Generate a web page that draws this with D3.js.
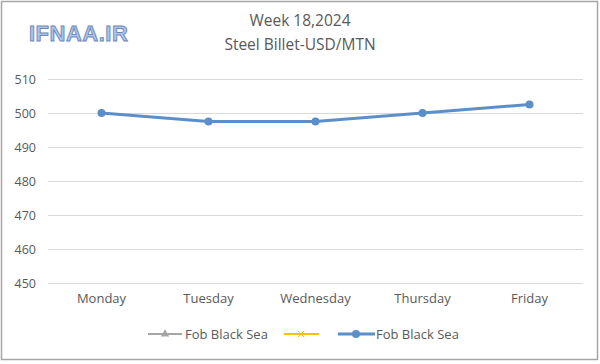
<!DOCTYPE html>
<html><head><meta charset="utf-8">
<script src="https://cdn.jsdelivr.net/npm/d3@7"></script>
<style>body{margin:0;background:#fff}svg{display:block}</style>
</head><body>
<svg id="c" width="600" height="364"></svg>
<script>
const days = ["Monday","Tuesday","Wednesday","Thursday","Friday"];
const fobValues = [500, 497.5, 497.5, 500, 502.5];
const yTicks = [450,460,470,480,490,500,510];
const titleLines = ["Week 18,2024","Steel Billet-USD/MTN"];
const legendNames = ["Fob Black Sea","","Fob Black Sea"];

const svg = d3.select("#c");
const font = "'Open Sans', 'Liberation Sans', sans-serif";
const grey = "#595959";
svg.append("rect").attr("x",1.5).attr("y",1.5).attr("width",596).attr("height",358)
  .attr("fill","#fff").attr("stroke","#a6a6a6").attr("stroke-width",1.5);

const m = {l:48, r:583, t:79, b:283};
const x = d3.scaleBand().domain(days).range([m.l,m.r]);
const y = d3.scaleLinear().domain([450,510]).range([m.b,m.t]);

// gridlines
svg.append("g").selectAll("line").data(yTicks).join("line")
  .attr("x1",m.l).attr("x2",m.r).attr("y1",d=>Math.round(y(d))+0.5).attr("y2",d=>Math.round(y(d))+0.5)
  .attr("stroke","#d9d9d9").attr("stroke-width",1);

const yAxis = svg.append("g").attr("transform",`translate(${m.l},0)`)
  .call(d3.axisLeft(y).tickValues(yTicks).tickSize(0).tickPadding(12));
yAxis.select(".domain").remove();
yAxis.selectAll("text").attr("fill",grey).style("font-family",font).style("font-size","12.5px");

const xAxis = svg.append("g").attr("transform",`translate(0,${m.b})`)
  .call(d3.axisBottom(x).tickSize(0).tickPadding(11));
xAxis.select(".domain").remove();
xAxis.selectAll("text").attr("fill",grey).style("font-family",font).style("font-size","13px");

// line
const line = d3.line().x((d,i)=>x(days[i])+x.bandwidth()/2).y(d=>y(d));
const blue = "#5b8fc9";
svg.append("path").datum(fobValues).attr("d",line).attr("fill","none")
  .attr("stroke",blue).attr("stroke-width",3).attr("stroke-linecap","round").attr("stroke-linejoin","round");
svg.append("g").selectAll("circle").data(fobValues).join("circle")
  .attr("cx",(d,i)=>x(days[i])+x.bandwidth()/2).attr("cy",d=>y(d)).attr("r",4).attr("fill",blue);

// title
svg.append("g").selectAll("text").data(titleLines).join("text")
  .attr("x",300).attr("y",(d,i)=>26+i*24).attr("text-anchor","middle")
  .attr("fill",grey).style("font-family",font).style("font-size","15.5px").text(d=>d);

// logo
svg.append("text").attr("x",29).attr("y",41).text("IFNAA.IR")
  .style("font-family","'Liberation Sans', sans-serif").style("font-size","22px").style("font-weight","bold")
  .attr("fill","#a9c6ee").attr("stroke","#6f86b3").attr("stroke-width",0.9).attr("letter-spacing","0.5");

// legend
const lg = svg.append("g").style("font-family",font).style("font-size","13px");
const ly = 334;
// item 1 grey triangle
lg.append("line").attr("x1",148).attr("x2",182).attr("y1",ly).attr("y2",ly).attr("stroke","#a5a5a5").attr("stroke-width",2);
lg.append("path").attr("d",d3.symbol(d3.symbolTriangle,30)()).attr("transform",`translate(165,${ly})`).attr("fill","#a5a5a5");
lg.append("text").attr("x",185).attr("y",ly+4.5).attr("fill",grey).text(legendNames[0]);
// item 2 yellow x
lg.append("line").attr("x1",284).attr("x2",319).attr("y1",ly).attr("y2",ly).attr("stroke","#ffc000").attr("stroke-width",2);
lg.append("path").attr("d",d3.symbol(d3.symbolX,30)()).attr("transform",`translate(301,${ly})`).attr("fill","none").attr("stroke","#ffc000").attr("stroke-width",1);
// item 3 blue circle
lg.append("line").attr("x1",338).attr("x2",375).attr("y1",ly).attr("y2",ly).attr("stroke",blue).attr("stroke-width",3);
lg.append("circle").attr("cx",356).attr("cy",ly).attr("r",4).attr("fill",blue);
lg.append("text").attr("x",376).attr("y",ly+4.5).attr("fill",grey).text(legendNames[2]);
</script>
</body></html>
